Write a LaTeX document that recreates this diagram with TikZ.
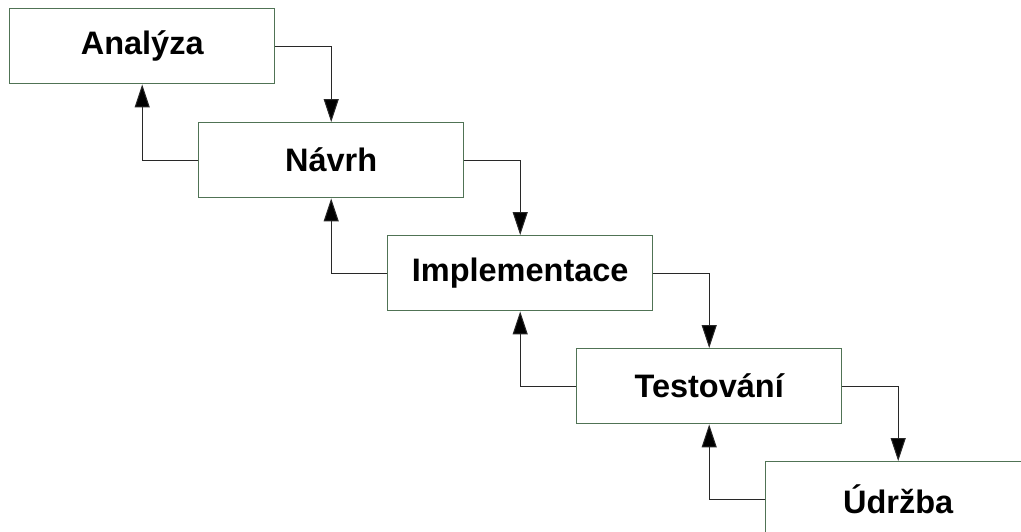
\documentclass[tikz,border=0pt]{standalone}
\usepackage{fontspec}
\setmainfont{Liberation Sans}
\usetikzlibrary{arrows.meta}
\definecolor{boxline}{RGB}{80,115,85}
\definecolor{wire}{RGB}{40,40,40}
\begin{document}
\begin{tikzpicture}[x=1pt,y=-1pt,
  phase/.style={draw=boxline,line width=1.4pt,fill=white,rectangle,
    anchor=north west,minimum width=265pt,minimum height=75pt,
    inner sep=0pt,font=\fontsize{32.5}{38}\selectfont\bfseries},
  flow/.style={draw=wire,line width=1pt,
    -{Triangle[length=23pt,width=15pt,fill=black]}}]
  \useasboundingbox (0,0) rectangle (1021,531);
  \clip (0,0) rectangle (1021,531);
  % waterfall stages, each one step down and to the right
  \node[phase] (A) at (9,8)    {Analýza};
  \node[phase] (N) at (198,122) {Návrh};
  \node[phase] (I) at (387,235) {Implementace};
  \node[phase] (T) at (576,348) {Testování};
  \node[phase] (U) at (765,461) {Údržba};
  % forward flow
  \draw[flow] (A.east) -| (N.north);
  \draw[flow] (N.east) -| (I.north);
  \draw[flow] (I.east) -| (T.north);
  \draw[flow] (T.east) -| (U.north);
  % feedback to the previous stage
  \draw[flow] (N.west) -| (A.south);
  \draw[flow] (I.west) -| (N.south);
  \draw[flow] (T.west) -| (I.south);
  \draw[flow] (U.west) -| (T.south);
\end{tikzpicture}
\end{document}
